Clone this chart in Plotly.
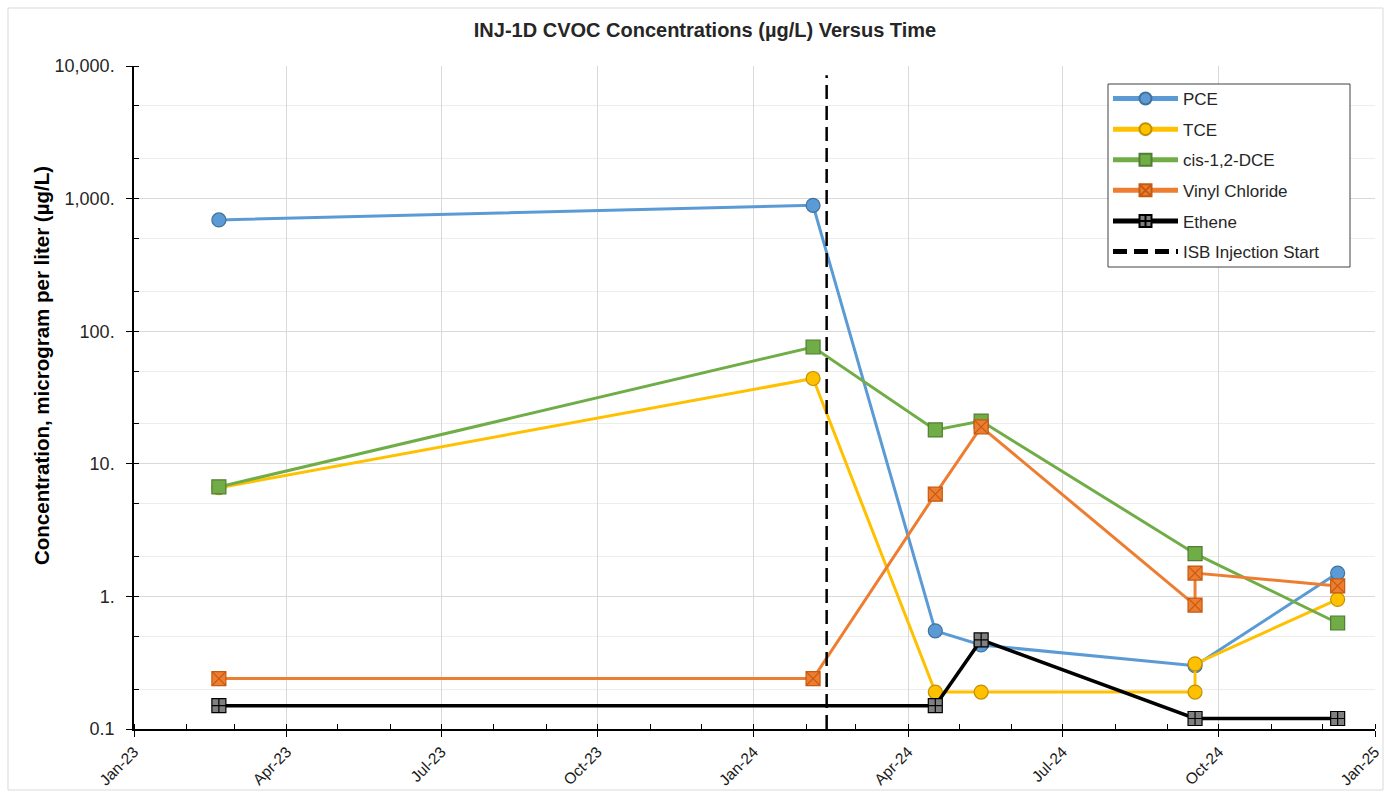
import plotly.graph_objects as go

# ---- data ----
dates_pce = ["2023-02-20", "2024-02-05", "2024-04-17", "2024-05-14", "2024-09-17", "2024-12-10"]
pce = [690, 890, 0.55, 0.43, 0.30, 1.5]

dates_tce = ["2023-02-20", "2024-02-05", "2024-04-17", "2024-05-14", "2024-09-17", "2024-09-17", "2024-12-10"]
tce = [6.6, 44, 0.19, 0.19, 0.19, 0.31, 0.95]

dates_dce = ["2023-02-20", "2024-02-05", "2024-04-17", "2024-05-14", "2024-09-17", "2024-12-10"]
dce = [6.7, 76, 18, 21, 2.1, 0.63]

dates_vc = ["2023-02-20", "2024-02-05", "2024-04-17", "2024-05-14", "2024-09-17", "2024-09-17", "2024-12-10"]
vc = [0.24, 0.24, 5.9, 19, 0.86, 1.5, 1.2]

dates_eth = ["2023-02-20", "2024-04-17", "2024-05-14", "2024-09-17", "2024-12-10"]
ethene = [0.15, 0.15, 0.47, 0.12, 0.12]

injection_date = "2024-02-13"
injection_span = [0.1, 8500]

y_tickvals = [0.1, 1, 10, 100, 1000, 10000]
y_ticktext = ["0.1", "1.", "10.", "100.", "1,000.", "10,000."]

FONT = "Liberation Sans, Arial, sans-serif"

fig = go.Figure()

def add_series(x, y, name, color, symbol, mcolor, mline, lw=3):
    fig.add_trace(go.Scatter(
        x=x, y=y, name=name, mode="lines+markers", legendgroup=name,
        line=dict(color=color, width=lw),
        marker=dict(symbol=symbol, size=14, color=mcolor,
                    line=dict(color=mline, width=1.2)),
    ))

add_series(dates_pce, pce, "PCE", "#5B9BD5", "circle", "#5B9BD5", "#41719C")
add_series(dates_tce, tce, "TCE", "#FFC000", "circle", "#FFC000", "#BF9000")
add_series(dates_dce, dce, "cis-1,2-DCE", "#70AD47", "square", "#70AD47", "#507E32")
add_series(dates_vc, vc, "Vinyl Chloride", "#ED7D31", "square-x", "#ED7D31", "#C55A11")
add_series(dates_eth, ethene, "Ethene", "#000000", "square-cross", "#808080", "#000000", lw=3.5)

fig.add_trace(go.Scatter(
    x=[injection_date, injection_date], y=injection_span, mode="lines",
    name="ISB Injection Start", legendgroup="isb",
    line=dict(color="#000000", width=2.5, dash="14px,7px"),
))

L, R, T, B = 134, 10, 66, 71
W, H = 1385, 800
pw, ph = W - L - R, H - T - B

def px_x(px):
    return (px - L) / pw

def px_y(py):
    return 1 - (py - T) / ph

fig.update_layout(
    width=W, height=H, autosize=False,
    margin=dict(l=L, r=R, t=T, b=B, autoexpand=False),
    paper_bgcolor="white", plot_bgcolor="white",
    font=dict(family=FONT, color="#000000"),
    title=dict(text="<b>INJ-1D CVOC Concentrations (µg/L) Versus Time</b>",
               x=0.509, xanchor="center", y=0.962, yanchor="middle",
               font=dict(size=20, color="#262626")),
    legend=dict(x=px_x(1108), y=px_y(81), xanchor="left", yanchor="top",
                borderwidth=0, bgcolor="rgba(0,0,0,0)",
                font=dict(size=17, color="#262626"), itemwidth=65,
                itemsizing="constant", tracegroupgap=5.5),
    showlegend=True,
)

fig.update_xaxes(
    type="date", range=["2023-01-01", "2025-01-01"], automargin=False,
    tick0="2023-01-01", dtick="M3", tickformat="%b-%y", tickangle=-45,
    showgrid=True, gridcolor="#D9D9D9", gridwidth=1,
    showline=True, linecolor="#000000", linewidth=1.5,
    ticks="outside", ticklen=6, tickcolor="#000000", tickwidth=1.2,
    tickfont=dict(size=15.5, color="#1A1A1A"),
    minor=dict(dtick="M1", tick0="2023-01-01", ticks="inside", ticklen=5,
               tickcolor="#000000", showgrid=False),
    zeroline=False,
)

fig.update_yaxes(
    type="log", range=[-1, 4], automargin=False,
    tickvals=y_tickvals, ticktext=y_ticktext,
    showgrid=True, gridcolor="#D9D9D9", gridwidth=1,
    showline=True, linecolor="#000000", linewidth=1.5,
    ticks="outside", ticklen=6, tickcolor="#000000", tickwidth=1.2,
    ticklabelstandoff=8,
    tickfont=dict(size=18, color="#262626"),
    minor=dict(ticks="inside", ticklen=5, tickcolor="#000000",
               showgrid=True, gridcolor="#EDEDED", gridwidth=1),
    zeroline=False,
)

# y-axis title as rotated annotation (positioned like the reference)
fig.add_annotation(
    text="<b>Concentration, microgram per liter (µg/L)</b>",
    textangle=-90, xref="paper", yref="paper",
    x=px_x(42), y=px_y(366), xanchor="center", yanchor="middle",
    showarrow=False, font=dict(size=20.5, color="#000000"),
)

# legend frame (white box behind the legend entries)
fig.add_shape(type="rect", xref="paper", yref="paper",
              x0=px_x(1108), x1=px_x(1350), y0=px_y(267), y1=px_y(84),
              fillcolor="white", line=dict(color="#404040", width=1), layer="above")

# outer chart border
fig.add_shape(type="rect", xref="paper", yref="paper",
              x0=px_x(8), x1=px_x(1383), y0=px_y(790), y1=px_y(8),
              line=dict(color="#D9D9D9", width=1), layer="below")

fig.write_html("out.html", config={"displayModeBar": False},
               post_script="document.body.style.margin='0px';")
